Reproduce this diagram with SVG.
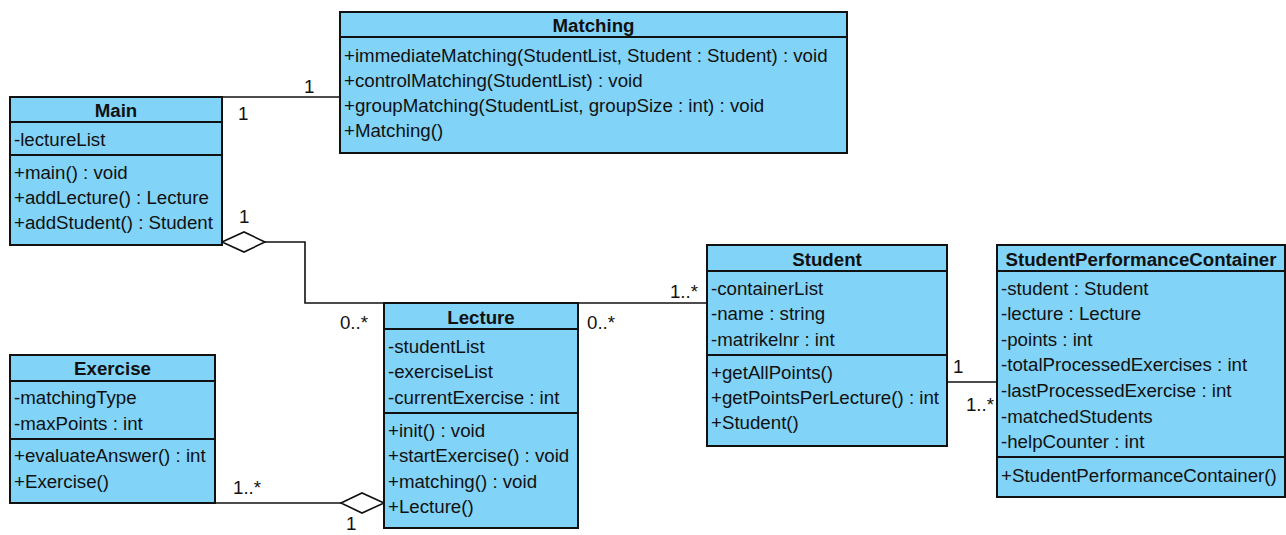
<svg xmlns="http://www.w3.org/2000/svg" width="1286" height="535" viewBox="0 0 1286 535">
  <style>
    .box { fill: #81d3f8; stroke: #111; stroke-width: 2; }
    .sep { stroke: #111; stroke-width: 2; }
    .t { font-family: "Liberation Sans", Arial, sans-serif; font-size: 18.7px; fill: #111; }
    .ttl { font-family: "Liberation Sans", Arial, sans-serif; font-size: 18.7px; font-weight: bold; fill: #111; text-anchor: middle; }
    .edge { fill: none; stroke: #111; stroke-width: 1.6; }
    .agg { fill: #fff; stroke: #111; stroke-width: 1.6; }
    .lbl { font-family: "Liberation Sans", Arial, sans-serif; font-size: 18.7px; fill: #111; }
    .end { text-anchor: end; }
  </style>
  <rect width="1286" height="535" fill="#fff"/>

  <!-- connectors -->
  <g id="connectors">
    <!-- Main - Matching -->
    <line class="edge" x1="223" y1="97" x2="340" y2="97"/>
    <text class="lbl" x="304" y="93">1</text>
    <text class="lbl" x="238" y="120">1</text>
    <!-- Main <>- Lecture -->
    <polyline class="edge" points="265,242 305,242 305,303 384,303"/>
    <polygon class="agg" points="222,242 244,232 265,242 244,252"/>
    <text class="lbl" x="239" y="223">1</text>
    <text class="lbl end" x="368" y="329">0..*</text>
    <!-- Lecture - Student -->
    <line class="edge" x1="578" y1="303" x2="707" y2="303"/>
    <text class="lbl" x="587" y="329">0..*</text>
    <text class="lbl end" x="698" y="298">1..*</text>
    <!-- Student - StudentPerformanceContainer -->
    <line class="edge" x1="948" y1="382" x2="997" y2="382"/>
    <text class="lbl" x="953" y="373">1</text>
    <text class="lbl end" x="994" y="411">1..*</text>
    <!-- Exercise -<> Lecture -->
    <line class="edge" x1="216" y1="503" x2="341" y2="503"/>
    <polygon class="agg" points="341,503 362,493 384,503 362,513"/>
    <text class="lbl" x="233" y="494">1..*</text>
    <text class="lbl" x="346" y="530">1</text>
  </g>

  <!-- Matching -->
  <g id="matching">
    <rect class="box" x="340" y="12" width="507" height="141"/>
    <line class="sep" x1="340" y1="37" x2="847" y2="37"/>
    <text class="ttl" x="593.5" y="31.5">Matching</text>
    <text class="t" x="344" y="61.5">+immediateMatching(StudentList, Student : Student) : void</text>
    <text class="t" x="344" y="86.5">+controlMatching(StudentList) : void</text>
    <text class="t" x="344" y="111.5">+groupMatching(StudentList, groupSize : int) : void</text>
    <text class="t" x="344" y="136.5">+Matching()</text>
  </g>

  <!-- Main -->
  <g id="main">
    <rect class="box" x="10" y="97" width="212" height="148"/>
    <line class="sep" x1="10" y1="122" x2="222" y2="122"/>
    <line class="sep" x1="10" y1="155" x2="222" y2="155"/>
    <text class="ttl" x="116" y="116.5">Main</text>
    <text class="t" x="14" y="145.5">-lectureList</text>
    <text class="t" x="14" y="178.5">+main() : void</text>
    <text class="t" x="14" y="203.5">+addLecture() : Lecture</text>
    <text class="t" x="14" y="228.5">+addStudent() : Student</text>
  </g>

  <!-- Lecture -->
  <g id="lecture">
    <rect class="box" x="384" y="303" width="194" height="225"/>
    <line class="sep" x1="384" y1="329" x2="578" y2="329"/>
    <line class="sep" x1="384" y1="413" x2="578" y2="413"/>
    <text class="ttl" x="481" y="323.5">Lecture</text>
    <text class="t" x="388" y="352.5">-studentList</text>
    <text class="t" x="388" y="377.5">-exerciseList</text>
    <text class="t" x="388" y="403.5">-currentExercise : int</text>
    <text class="t" x="388" y="436.5">+init() : void</text>
    <text class="t" x="388" y="461.5">+startExercise() : void</text>
    <text class="t" x="388" y="487.5">+matching() : void</text>
    <text class="t" x="388" y="512.5">+Lecture()</text>
  </g>

  <!-- Student -->
  <g id="student">
    <rect class="box" x="707" y="245" width="240" height="201"/>
    <line class="sep" x1="707" y1="271" x2="947" y2="271"/>
    <line class="sep" x1="707" y1="355" x2="947" y2="355"/>
    <text class="ttl" x="827" y="265.5">Student</text>
    <text class="t" x="711" y="294.5">-containerList</text>
    <text class="t" x="711" y="319.5">-name : string</text>
    <text class="t" x="711" y="345.5">-matrikelnr : int</text>
    <text class="t" x="711" y="378.5">+getAllPoints()</text>
    <text class="t" x="711" y="403.5">+getPointsPerLecture() : int</text>
    <text class="t" x="711" y="428.5">+Student()</text>
  </g>

  <!-- StudentPerformanceContainer -->
  <g id="student-performance-container">
    <rect class="box" x="997" y="245" width="288" height="252"/>
    <line class="sep" x1="997" y1="271" x2="1285" y2="271"/>
    <line class="sep" x1="997" y1="457" x2="1285" y2="457"/>
    <text class="ttl" x="1141" y="265.5">StudentPerformanceContainer</text>
    <text class="t" x="1001" y="294.5">-student : Student</text>
    <text class="t" x="1001" y="319.5">-lecture : Lecture</text>
    <text class="t" x="1001" y="345.5">-points : int</text>
    <text class="t" x="1001" y="370.5">-totalProcessedExercises : int</text>
    <text class="t" x="1001" y="396.5">-lastProcessedExercise : int</text>
    <text class="t" x="1001" y="422.5">-matchedStudents</text>
    <text class="t" x="1001" y="447.5">-helpCounter : int</text>
    <text class="t" x="1001" y="481.5">+StudentPerformanceContainer()</text>
  </g>

  <!-- Exercise -->
  <g id="exercise">
    <rect class="box" x="10" y="355" width="205" height="148"/>
    <line class="sep" x1="10" y1="381" x2="215" y2="381"/>
    <line class="sep" x1="10" y1="439" x2="215" y2="439"/>
    <text class="ttl" x="112.5" y="374.5">Exercise</text>
    <text class="t" x="14" y="403.5">-matchingType</text>
    <text class="t" x="14" y="429.5">-maxPoints : int</text>
    <text class="t" x="14" y="461.5">+evaluateAnswer() : int</text>
    <text class="t" x="14" y="487.5">+Exercise()</text>
  </g>
</svg>
